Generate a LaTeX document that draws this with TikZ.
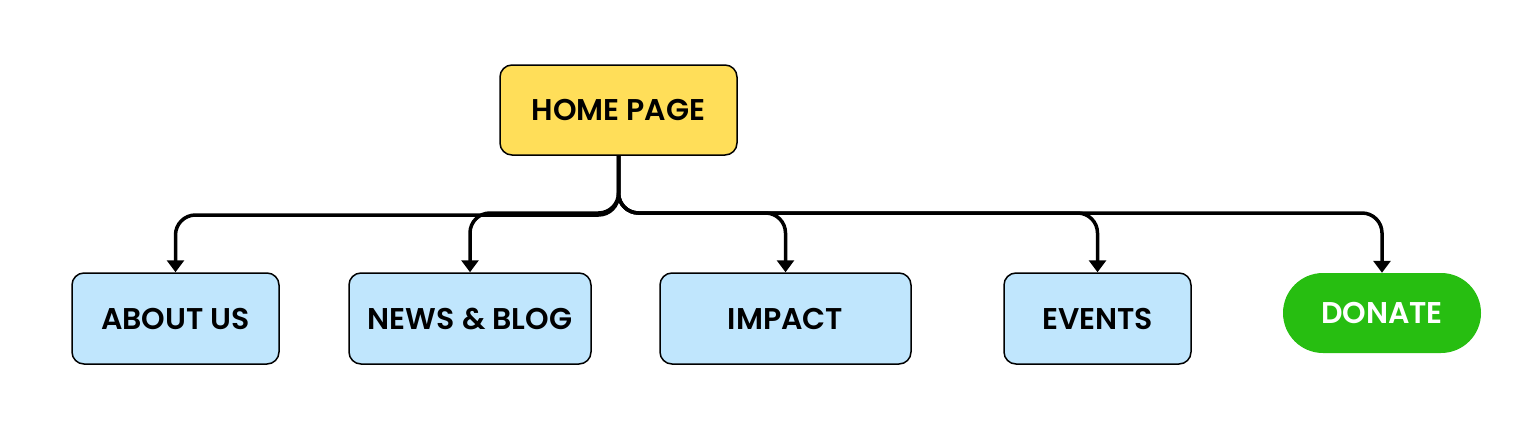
\documentclass[tikz,border=0pt]{standalone}
\usepackage{fontspec}
\setmainfont{Poppins SemiBold}
\usetikzlibrary{arrows.meta}
\definecolor{homeyellow}{HTML}{FFDE59}
\definecolor{pageblue}{HTML}{C0E6FD}
\definecolor{donategreen}{HTML}{27BE11}
\tikzset{
  pagebox/.style={draw=black, line width=1.5pt, rounded corners=12pt, fill=pageblue, inner sep=0pt, font=\fontsize{30}{36}\selectfont, text=black},
  homebox/.style={pagebox, fill=homeyellow},
  donatebox/.style={fill=donategreen, rounded corners=40pt, inner sep=0pt, minimum width=198pt, minimum height=80pt, font=\fontsize{30}{36}\selectfont, text=white},
  conn/.style={line width=3.5pt, rounded corners=20pt, -{Triangle[width=17pt,length=12pt]}},
}
\begin{document}
\begin{tikzpicture}[x=1pt,y=-1pt]
\useasboundingbox (0,0) rectangle (1539,431);
\node[homebox, minimum width=237pt, minimum height=90pt] (home) at (618.5,110) {HOME PAGE};
\node[pagebox, minimum width=207pt, minimum height=91pt] (about) at (175.5,318.5) {ABOUT US};
\node[pagebox, minimum width=242pt, minimum height=91pt] (news) at (470,318.5) {NEWS \& BLOG};
\node[pagebox, minimum width=251pt, minimum height=91pt] (impact) at (785.5,318.5) {IMPACT};
\node[pagebox, minimum width=187pt, minimum height=91pt] (events) at (1097.5,318.5) {EVENTS};
\node[donatebox] (donate) at (1382,313) {DONATE};
\coordinate (jl) at (618.5,215);
\coordinate (jr) at (618.5,213);
\draw[conn] (home.south) -- (jl) -- (about.north |- jl) -- (about.north);
\draw[conn] (home.south) -- (jr) -- (news.north |- jr) -- (news.north);
\draw[conn] (home.south) -- (jr) -- (impact.north |- jr) -- (impact.north);
\draw[conn] (home.south) -- (jr) -- (events.north |- jr) -- (events.north);
\draw[conn] (home.south) -- (jr) -- (donate.north |- jr) -- (donate.north);
\end{tikzpicture}
\end{document}
